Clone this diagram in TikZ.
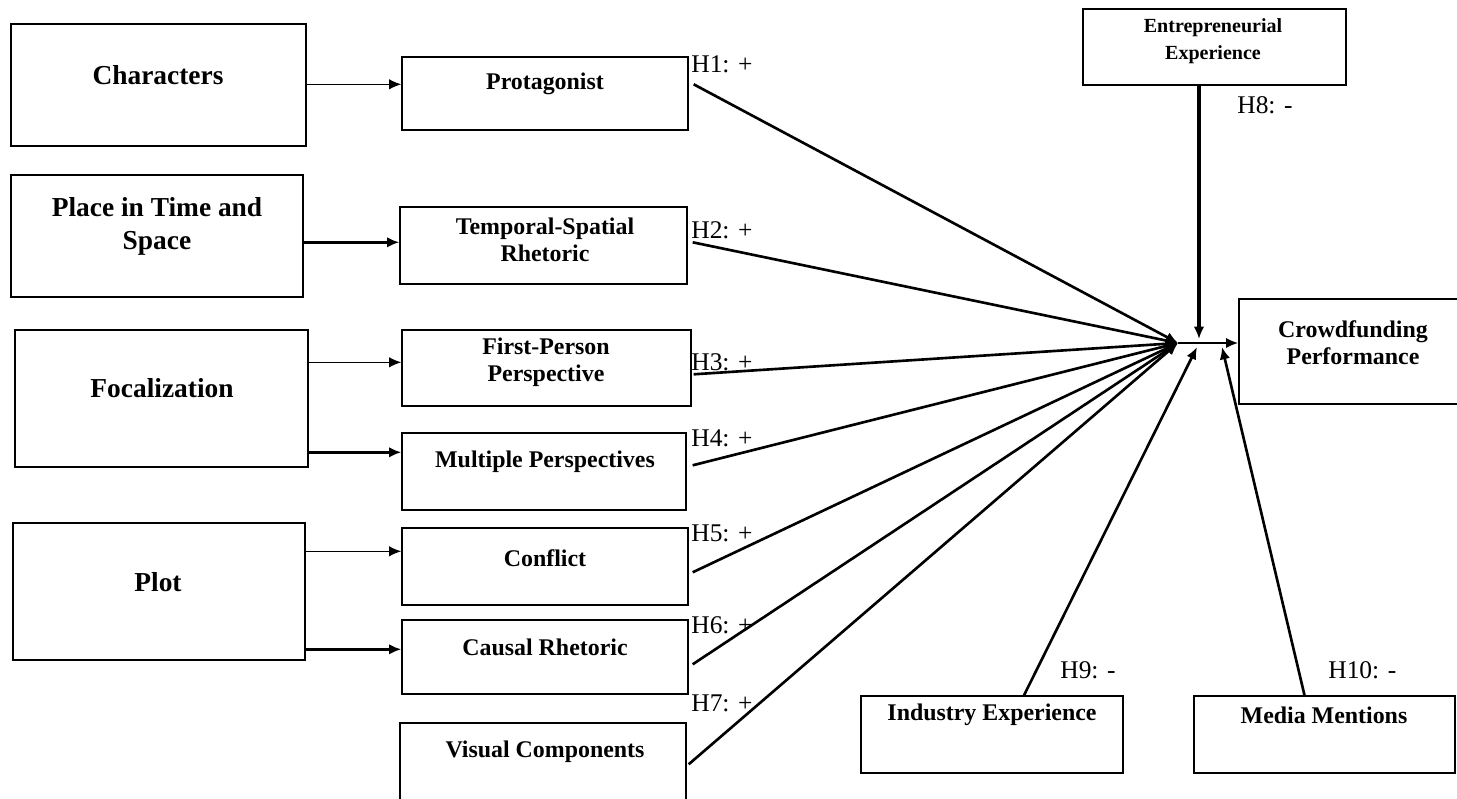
\documentclass[tikz,border=0pt]{standalone}
\usepackage{fontspec}
\setmainfont{Liberation Serif}
\usetikzlibrary{arrows.meta}

\begin{document}
\begin{tikzpicture}[x=0.02cm,y=-0.02cm]
  \tikzstyle{box}=[draw,line width=0.8pt,inner sep=0pt]
  \tikzstyle{bigtxt}=[font=\fontsize{15.6}{18.7}\selectfont\bfseries,align=center,inner sep=0pt]
  \tikzstyle{midtxt}=[font=\fontsize{13.6}{15.3}\selectfont\bfseries,align=center,inner sep=0pt]
  \tikzstyle{smalltxt}=[font=\fontsize{11.4}{15.3}\selectfont\bfseries,align=center,inner sep=0pt]
  \tikzstyle{hlab}=[font=\fontsize{14.5}{17}\selectfont,anchor=west,inner sep=0pt]
  \tikzstyle{thinarrow}=[-{Latex[length=7pt,width=6pt]},line width=0.8pt]
  \tikzstyle{thickarrow}=[-{Latex[length=7pt,width=6pt]},line width=1.5pt]
  \tikzstyle{hyp}=[-{Latex[length=7pt,width=6pt]},line width=1.5pt]
  \useasboundingbox (0,0) rectangle (1457,798);

  % narrative elements
  \node[box,minimum width=5.9cm,minimum height=2.44cm] (chars) at (158.5,85) {};
  \node[box,minimum width=5.84cm,minimum height=2.44cm] (place) at (157,236) {};
  \node[box,minimum width=5.86cm,minimum height=2.74cm] (focal) at (161.5,398.5) {};
  \node[box,minimum width=5.84cm,minimum height=2.74cm] (plot) at (159,591.5) {};
  \node[bigtxt] (charsT) at (158,75) {Characters};
  \node[bigtxt] (placeT) at (157,226) {Place in Time and\\Space};
  \node[bigtxt] (focalT) at (162,388) {Focalization};
  \node[bigtxt] (plotT) at (158,582) {Plot};

  % narrative devices
  \node[box,minimum width=5.72cm,minimum height=1.46cm] (prot) at (545,93.5) {};
  \node[box,minimum width=5.74cm,minimum height=1.54cm] (temp) at (543.5,245.5) {};
  \node[box,minimum width=5.78cm,minimum height=1.52cm] (fp) at (546.5,368) {};
  \node[box,minimum width=5.68cm,minimum height=1.54cm] (mult) at (544,471.5) {};
  \node[box,minimum width=5.72cm,minimum height=1.54cm] (confl) at (545,566.5) {};
  \node[box,minimum width=5.72cm,minimum height=1.48cm] (causal) at (545,657) {};
  \node[box,minimum width=5.72cm,minimum height=1.6cm] (visual) at (543,763) {};
  \node[midtxt] (protT) at (545,84) {Protagonist};
  \node[midtxt] (tempT) at (545,240) {Temporal-Spatial\\Rhetoric};
  \node[midtxt] (fpT) at (546,362) {First-Person\\Perspective};
  \node[midtxt] (multT) at (545,462) {Multiple Perspectives};
  \node[midtxt] (conflT) at (545,558) {Conflict};
  \node[midtxt] (causalT) at (545,647) {Causal Rhetoric};
  \node[midtxt] (visualT) at (545,752) {Visual Components};

  % controls and outcome
  \node[box,minimum width=5.26cm,minimum height=1.52cm] (ent) at (1214.5,47) {};
  \node[box,minimum width=4.52cm,minimum height=2.1cm] (crowd) at (1352,351.5) {};
  \node[box,minimum width=5.24cm,minimum height=1.54cm] (ind) at (992,734.5) {};
  \node[box,minimum width=5.22cm,minimum height=1.54cm] (med) at (1324.5,734.5) {};
  \node[smalltxt] (entT) at (1213,41) {Entrepreneurial\\Experience};
  \node[midtxt] (crowdT) at (1353,343) {Crowdfunding\\Performance};
  \node[midtxt] (indT) at (992,715) {Industry Experience};
  \node[midtxt] (medT) at (1324,715) {Media Mentions};

  \coordinate (hub) at (1178,343);
  \coordinate (hubE) at (1199,339);
  \coordinate (hubI) at (1197,347);
  \coordinate (hubM) at (1222,347);

  \draw[thinarrow] ([yshift=-0.56cm]prot.north west -| chars.east) -- ([yshift=-0.56cm]prot.north west);
  \draw[thickarrow] ([yshift=-0.72cm]temp.north west -| place.east) -- ([yshift=-0.72cm]temp.north west);
  \draw[thinarrow] ([yshift=-0.66cm]fp.north west -| focal.east) -- ([yshift=-0.66cm]fp.north west);
  \draw[thickarrow] ([yshift=-0.4cm]mult.north west -| focal.east) -- ([yshift=-0.4cm]mult.north west);
  \draw[thinarrow] ([yshift=-0.48cm]confl.north west -| plot.east) -- ([yshift=-0.48cm]confl.north west);
  \draw[thickarrow] ([yshift=-0.6cm]causal.north west -| plot.east) -- ([yshift=-0.6cm]causal.north west);

  \draw[hyp] ([xshift=0.1cm,yshift=-0.56cm]prot.north east) -- (hub);
  \draw[hyp] ([xshift=0.1cm,yshift=-0.72cm]temp.north east) -- (hub);
  \draw[hyp] ([xshift=0.04cm,yshift=-0.9cm]fp.north east) -- (hub);
  \draw[hyp] ([xshift=0.12cm,yshift=-0.66cm]mult.north east) -- (hub);
  \draw[hyp] ([xshift=0.08cm,yshift=-0.9cm]confl.north east) -- (hub);
  \draw[hyp] ([xshift=0.08cm,yshift=-0.9cm]causal.north east) -- (hub);
  \draw[hyp] ([xshift=0.04cm,yshift=-0.84cm]visual.north east) -- (hub);
  \draw[hyp] (hub) -- (hub -| crowd.west);
  \draw[hyp,line width=1.8pt] (ent.south -| hubE) -- (hubE);
  \draw[hyp] ([xshift=0.64cm]ind.north) -- (hubI);
  \draw[hyp] ([xshift=-0.4cm]med.north) -- (hubM);

  \node[hlab] (h1) at (691,64) {H1: +};
  \node[hlab] (h2) at (691,230) {H2: +};
  \node[hlab] (h3) at (691,362) {H3: +};
  \node[hlab] (h4) at (691,438) {H4: +};
  \node[hlab] (h5) at (691,533) {H5: +};
  \node[hlab] (h6) at (691,625) {H6: +};
  \node[hlab] (h7) at (691,703) {H7: +};
  \node[hlab] (h8) at (1237,105) {H8: -};
  \node[hlab] (h9) at (1060,670) {H9: -};
  \node[hlab] (h10) at (1328,670) {H10: -};
\end{tikzpicture}
\end{document}
